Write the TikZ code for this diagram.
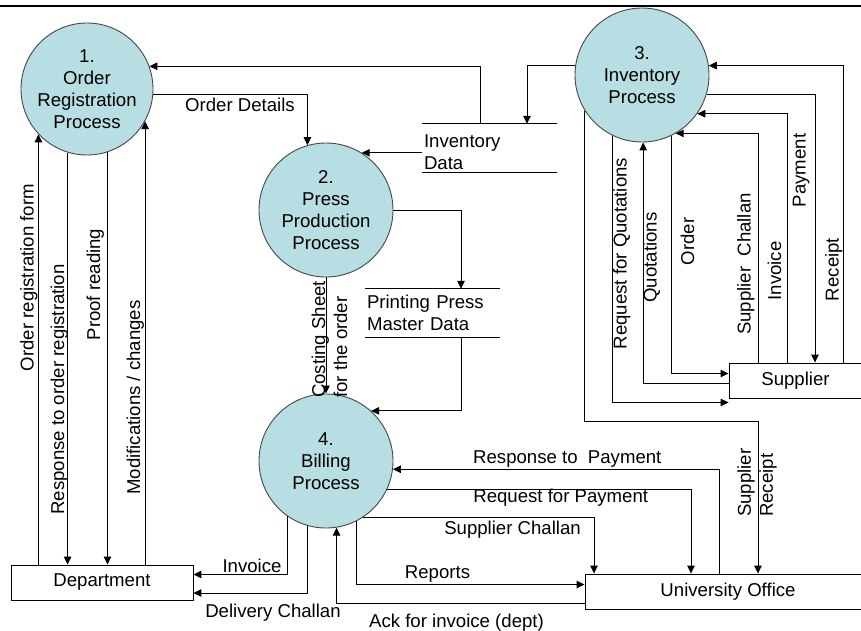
\documentclass[tikz,border=0pt]{standalone}
\usepackage{fontspec}
\setmainfont{Liberation Sans}
\usetikzlibrary{arrows.meta}
\definecolor{procfill}{RGB}{183,222,226}
\definecolor{procline}{RGB}{70,70,70}
\tikzset{
	process/.style={circle, draw=procline, fill=procfill, line width=0.9pt, minimum size=134pt, inner sep=0pt, align=center},
	entity/.style={draw, line width=0.9pt, inner sep=0pt, minimum height=35pt},
	store/.style={minimum width=135pt, minimum height=48pt, text width=131pt, inner sep=0pt, align=left},
	flow/.style={line width=1pt, -{Triangle[length=8pt,width=7.5pt]}},
	lbl/.style={inner sep=0pt, anchor=base},
	vlbl/.style={inner sep=0pt, rotate=90}
}

\begin{document}
\begin{tikzpicture}[x=1pt, y=-1pt, font=\fontsize{18.6}{22}\selectfont]
			%%%%% START %%%%%
			\useasboundingbox (0,0) rectangle (861,630);
			\draw[line width=1.5pt] (0,6) -- (861,6);
			
			\node[process, minimum size=132pt] (c1) at (87,89) {1.\\Order\\Registration\\Process};
			\node[process] (c2) at (326,210) {2.\\Press\\Production\\Process};
			\node[process] (c3) at (642,75) {3.\\Inventory\\Process};
			\node[process] (c4) at (326,461) {4.\\Billing\\Process};
			
			\node[entity, minimum width=182pt] (dept) at (102,582.5) {Department};
			\node[entity, minimum width=286pt] (uo) at (728,591.5) {University Office};
			\node[entity, minimum width=133pt] (sup) at (795.5,380.5) {Supplier};
			
			\node[store, text height=22pt] (inv) at (489.5,148) {Inventory\\Data};
			\draw[line width=1pt] (inv.north west) -- (inv.north east) (inv.south west) -- (inv.south east);
			\node[store] (pp) at (432.5,313) {Printing Press\\Master Data};
			\draw[line width=1pt] (pp.north west) -- (pp.north east) (pp.south west) -- (pp.south east);
			
			% department and order registration
			\draw[flow] (c1.223 |- dept.north) -- (c1.223);
			\draw[flow] (c1.253) -- (c1.253 |- dept.north);
			\draw[flow] (c1.288) -- (c1.288 |- dept.north);
			\draw[flow] (c1.331 |- dept.north) -- (c1.331);
			\node[vlbl, anchor=base] (torf) at (33.5,277.5) {Order registration form};
			\node[vlbl, anchor=base] (tror) at (64,389.5) {Response to order registration};
			\node[vlbl, anchor=base] (tpr) at (100,284.5) {Proof reading};
			\node[vlbl, anchor=base] (tmc) at (140,397.5) {Modifications / changes};
			
			% data stores
			\draw[flow] (c1.355) -| (c2.106);
			\node[lbl] (tod) at (240,111) {Order Details};
			\draw[flow] (inv.north -| 480,0) |- (c1.20);
			\draw[flow] (c3.172) -| (inv.north -| 527,0);
			\draw[flow] (inv.west |- c2.58) -- (c2.58);
			\draw[flow] (c2.east) -| (pp.north -| 461,0);
			\draw[flow] (pp.south -| 461,0) |- (c4.48);
			\draw[flow] (c2.south) -- (c4.north);
			\node[vlbl, anchor=west, align=left] (tcs) at (329.5,398) {Costing Sheet\\for the order};
			
			% billing
			\draw[flow] (c4.235) |- ([yshift=8pt]dept.east);
			\draw[flow] (c4.254) |- ([yshift=-10.5pt]dept.east);
			\draw[flow] ([yshift=-11.5pt]uo.west) -| (c4.279);
			\draw[flow] (c4.297) |- ([yshift=7pt]uo.west);
			\draw[flow] (c4.303) -| (uo.north -| 594,0);
			\draw[flow] (c4.335) -| (uo.north -| 691,0);
			\draw[flow] (uo.north -| 719,0) |- (c4.353);
			\node[lbl] (tinv) at (252,572) {Invoice};
			\node[lbl] (tdc) at (273,617) {Delivery Challan};
			\node[lbl] (tack) at (456.5,627) {Ack for invoice (dept)};
			\node[lbl] (trep) at (437.5,578) {Reports};
			\node[lbl] (tsc) at (512.5,534) {Supplier Challan};
			\node[lbl] (treq) at (560.7,502) {Request for Payment};
			\node[lbl] (tresp) at (567.3,463) {Response to~ Payment};
			
			% inventory and supplier
			\draw[flow] (c3.212) |- (758,421) -- (uo.north -| 758,0);
			\node[vlbl, anchor=west, align=left] (tsr) at (757,517) {Supplier\\Receipt};
			\draw[flow] (c3.244) |- ([yshift=-4pt]sup.south west);
			\draw[flow] ([yshift=-2.5pt]sup.west) -| (c3.271);
			\draw[flow] (c3.296) |- ([yshift=7pt]sup.west);
			\draw[flow] (sup.north -| 758,0) |- (c3.300);
			\draw[flow] (sup.north -| 787,0) |- (c3.325);
			\draw[flow] (c3.343) -| (sup.north -| 815,0);
			\draw[flow] (sup.north -| 843,0) |- (c3.8);
			\node[vlbl, anchor=base] (trq) at (626.5,253.5) {Request for Quotations};
			\node[vlbl, anchor=base] (tq) at (656.5,257.5) {Quotations};
			\node[vlbl, anchor=base] (tord) at (694,241.5) {Order};
			\node[vlbl, anchor=base] (tsch) at (750.5,264) {Supplier~ Challan};
			\node[vlbl, anchor=base] (tinvs) at (781,271) {Invoice};
			\node[vlbl, anchor=base] (tpay) at (805.5,170.5) {Payment};
			\node[vlbl, anchor=base] (trec) at (838.5,269.5) {Receipt};
			%%%%% END %%%%%
\end{tikzpicture}
\end{document}
